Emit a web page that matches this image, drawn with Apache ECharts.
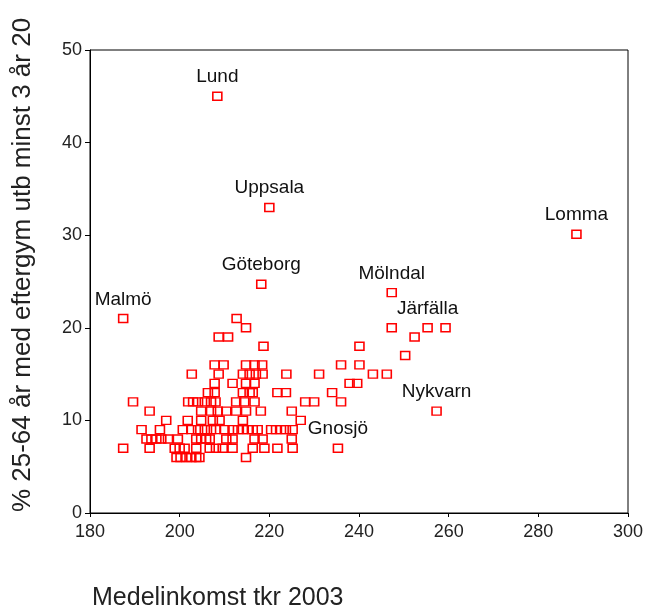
<!DOCTYPE html>
<html>
<head>
<meta charset="utf-8">
<script src="https://cdn.jsdelivr.net/npm/echarts@6/dist/echarts.min.js"></script>
<style>
  html, body { margin: 0; padding: 0; background: #fff; }
  #chart { width: 657px; height: 610px; }
</style>
</head>
<body>
<div id="chart"></div>
<script>
  // andel (%) per rad och medelinkomst (tkr) för kommunerna i varje rad
  const rowShares = [6, 7, 8, 9, 10, 11, 12, 13, 14, 15, 16, 17, 18, 19, 20, 21];
  const rowIncomes = [
    [199.3, 200.2, 201.5, 202.6, 203.7, 204.4, 214.8],
    [187.4, 193.3, 198.9, 200, 201.1, 203.7, 206.7, 208.1, 209.6, 211.8, 216.3, 218.9, 221.8, 225.2],
    [192.6, 193.7, 194.8, 195.9, 197.4, 199.6, 203.7, 204.8, 205.9, 206.7, 210.4, 211.8, 216.7, 218.5, 225],
    [191.5, 195.6, 200.7, 202.6, 204.1, 205.6, 207, 208.1, 210, 211.8, 213, 214.1, 215.2, 216.3, 217.4, 220.4, 221.5, 222.6, 223.7, 225.2],
    [197, 201.8, 204.8, 207.4, 208.9, 214.1, 227],
    [193.3, 204.8, 207, 208.5, 210.4, 212.6, 214.8, 218.1, 225],
    [189.6, 201.9, 203, 204.1, 205.6, 207, 208, 212.6, 214.4, 216.7, 228, 230, 236],
    [206.3, 207.8, 214.1, 215.6, 216.3, 221.8, 223.7, 234],
    [207.8, 211.8, 214.8, 216.7, 237.9, 239.6],
    [202.7, 208.7, 214.1, 215.6, 217, 218.5, 223.8, 231.1, 243.1, 246.2],
    [207.8, 209.8, 214.8, 216.7, 218.4, 236, 240.1],
    [250.3],
    [218.7, 240.1],
    [208.7, 210.8, 252.4],
    [214.8, 247.3, 259.3],
    [212.7]
  ];

  // utmärkta kommuner
  const towns = ['Lund', 'Uppsala', 'Göteborg', 'Malmö', 'Lomma', 'Mölndal', 'Järfälla', 'Nykvarn', 'Gnosjö'];
  const townIncomes = [208.4, 220, 218.2, 187.4, 288.5, 247.3, 255.3, 257.3, 235.3];
  const townShares = [45, 33, 24.7, 21, 30.1, 23.8, 20, 11, 7];

  const xTicks = [180, 200, 220, 240, 260, 280, 300];
  const yTicks = [0, 10, 20, 30, 40, 50];

  const font = 'Liberation Sans, Arial, sans-serif';

  let points = [];
  for (let i = 0; i < rowShares.length; i++) {
    for (let j = 0; j < rowIncomes[i].length; j++) {
      points.push([rowIncomes[i][j], rowShares[i]]);
    }
  }
  for (let i = 0; i < towns.length; i++) {
    points.push({
      value: [townIncomes[i], townShares[i]],
      name: towns[i],
      label: { show: true }
    });
  }

  let myChart = echarts.init(document.getElementById('chart'));
  myChart.setOption({
    animation: false,
    backgroundColor: '#fff',
    grid: {
      left: 90, right: 29, top: 50, bottom: 97,
      show: true, borderColor: '#000', borderWidth: 1
    },
    xAxis: {
      type: 'value',
      min: xTicks[0], max: xTicks[xTicks.length - 1], interval: 20,
      splitLine: { show: false },
      axisLine: { show: true, lineStyle: { color: '#000', width: 1 } },
      axisTick: { show: true, length: 4, lineStyle: { color: '#000' } },
      axisLabel: { color: '#222', fontFamily: font, fontSize: 18, margin: 10 }
    },
    yAxis: {
      type: 'value',
      min: yTicks[0], max: yTicks[yTicks.length - 1], interval: 10,
      splitLine: { show: false },
      axisLine: { show: true, lineStyle: { color: '#000', width: 1 } },
      axisTick: { show: true, length: 5, lineStyle: { color: '#000' } },
      axisLabel: { color: '#222', fontFamily: font, fontSize: 18, margin: 8 }
    },
    graphic: [
      {
        type: 'text', x: 23, y: 265, rotation: Math.PI / 2,
        style: {
          text: '% 25-64 år med eftergym utb minst 3 år 20',
          fontFamily: font, fontSize: 26, fill: '#222',
          textAlign: 'center', textVerticalAlign: 'middle'
        }
      },
      {
        type: 'text', x: 92, y: 598,
        style: {
          text: 'Medelinkomst tkr 2003',
          fontFamily: font, fontSize: 25, fill: '#222',
          textAlign: 'left', textVerticalAlign: 'middle'
        }
      }
    ],
    series: [
      {
        type: 'scatter',
        symbol: 'rect',
        symbolSize: [9, 8],
        itemStyle: { color: 'rgba(0,0,0,0)', borderColor: '#ff0000', borderWidth: 1.5, opacity: 1 },
        label: {
          show: false, position: 'top', distance: 5,
          formatter: '{b}', color: '#111', fontFamily: font, fontSize: 19
        },
        emphasis: { disabled: true },
        data: points
      }
    ]
  });
</script>
</body>
</html>
